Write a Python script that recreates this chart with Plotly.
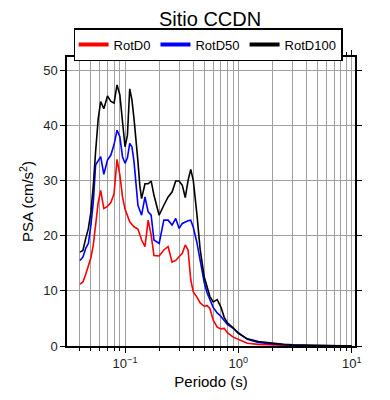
import plotly.graph_objects as go

periods = [0.04, 0.0425, 0.045, 0.0475, 0.05, 0.0525, 0.055, 0.058, 0.061, 0.065,
           0.07, 0.075, 0.08, 0.085, 0.09, 0.095, 0.10, 0.105, 0.11, 0.115,
           0.12, 0.13, 0.135, 0.14, 0.15, 0.16, 0.17, 0.18, 0.20, 0.22,
           0.24, 0.26, 0.28, 0.30, 0.32, 0.34, 0.36, 0.38, 0.40, 0.43,
           0.46, 0.50, 0.53, 0.56, 0.60, 0.65, 0.70, 0.75, 0.80, 0.90,
           1.0, 1.2, 1.5, 2.0, 2.5, 3.0, 4.0, 5.0, 7.5, 10.0]

rotd0 = [11.2, 11.6, 13.0, 14.8, 16.0, 18.3, 22.0, 26.0, 28.2, 24.9,
         25.3, 26.0, 27.6, 33.8, 31.0, 27.0, 24.8, 23.5, 22.5, 22.0,
         21.6, 21.2, 20.1, 19.2, 18.0, 22.8, 20.1, 16.4, 16.3, 17.4,
         18.0, 15.2, 15.5, 16.1, 16.8, 18.3, 17.4, 12.0, 9.8, 8.9,
         7.8, 7.2, 7.3, 6.8, 4.7, 3.4, 3.1, 3.2, 2.4, 1.6,
         1.2, 0.5, 0.3, 0.15, 0.1, 0.07, 0.05, 0.03, 0.02, 0.01]

rotd50 = [15.5, 16.1, 17.7, 18.6, 21.9, 26.1, 32.8, 33.5, 34.3, 31.1,
          33.7, 34.6, 36.5, 39.1, 37.9, 34.3, 33.1, 34.1, 36.7, 36.1,
          33.4, 25.5, 24.5, 23.7, 27.0, 24.3, 23.7, 19.2, 18.6, 22.8,
          22.8, 21.9, 23.1, 21.3, 22.2, 22.5, 22.7, 22.8, 21.5, 18.8,
          15.5, 11.5, 9.6, 8.4, 7.0, 6.0, 5.4, 4.6, 3.9, 3.2,
          2.4, 1.2, 0.65, 0.35, 0.22, 0.15, 0.09, 0.06, 0.03, 0.02]

rotd100 = [17.0, 17.3, 19.5, 21.3, 24.3, 29.1, 35.2, 41.2, 44.3, 43.0,
           45.3, 44.3, 44.0, 47.3, 45.5, 41.2, 36.1, 38.2, 46.6, 44.6,
           41.2, 33.4, 29.1, 26.7, 29.4, 29.4, 29.9, 27.3, 23.7, 25.5,
           27.0, 27.9, 29.9, 29.9, 29.1, 26.9, 30.0, 32.0, 30.0, 24.0,
           17.5, 12.5, 10.5, 9.0, 8.0, 8.4, 7.1, 5.2, 4.2, 3.3,
           2.3, 1.3, 0.8, 0.45, 0.3, 0.2, 0.12, 0.08, 0.04, 0.03]

series_names = ["RotD0", "RotD50", "RotD100"]
series_colors = ["#ff0000", "#0000ff", "#000000"]

x_major = [0.1, 1, 10]
x_major_text = ["10<sup>−1</sup>", "10<sup>0</sup>", "10<sup>1</sup>"]
x_minor = [m * d for d in (0.01, 0.1, 1) for m in range(2, 10)]
y_ticks = [0, 10, 20, 30, 40, 50]

font_family = "Liberation Sans, Arial, sans-serif"

fig = go.Figure()
for name, vals, col in zip(series_names, [rotd0, rotd50, rotd100], series_colors):
    fig.add_trace(go.Scatter(x=periods, y=vals, mode="lines", name=name,
                             legendgroup=name, showlegend=False,
                             line=dict(color=col, width=1.6)))
# legend entries with thick line swatches (as in the reference key)
for name, col in zip(series_names, series_colors):
    fig.add_trace(go.Scatter(x=[None], y=[None], mode="lines", name=name,
                             legendgroup=name, showlegend=True,
                             line=dict(color=col, width=4)))

fig.update_layout(
    width=382, height=392,
    margin=dict(l=59, r=35, t=49, b=54, autoexpand=False),
    paper_bgcolor="white", plot_bgcolor="white",
    font=dict(family=font_family, size=13, color="#000000"),
    title=dict(text="Sitio CCDN", x=0.529, xanchor="center", y=0.99, yanchor="top",
               font=dict(size=20, color="#000000")),
    showlegend=True,
    legend=dict(orientation="h", x=0.49, xanchor="center", y=1.10, yanchor="top",
                bordercolor="#000000", borderwidth=1.5, bgcolor="white",
                font=dict(size=13), itemwidth=30, tracegroupgap=0),
    xaxis=dict(
        type="log", range=[-1.512, 1.029],
        tickvals=x_major, ticktext=x_major_text,
        ticks="outside", ticklen=5, tickwidth=1, tickcolor="#000000",
        showline=True, linecolor="#000000", linewidth=1.5, mirror="allticks",
        showgrid=True, gridcolor="#a0a0a0", gridwidth=1,
        minor=dict(tickvals=x_minor, ticks="outside", ticklen=3, tickcolor="#000000",
                   showgrid=True, gridcolor="#a0a0a0", gridwidth=1),
        title=dict(text="Periodo (s)", font=dict(size=15), standoff=6),
        tickfont=dict(size=13, color="#222222"),
        zeroline=False,
    ),
    yaxis=dict(
        range=[0, 52.36], tickvals=y_ticks,
        ticks="outside", ticklen=5, tickwidth=1, tickcolor="#000000",
        showline=True, linecolor="#000000", linewidth=1.5, mirror="allticks",
        showgrid=True, gridcolor="#a0a0a0", gridwidth=1,
        title=dict(text="PSA (cm/s<sup>2</sup>)", font=dict(size=15), standoff=6),
        tickfont=dict(size=13, color="#222222"),
        zeroline=False,
    ),
)

fig.write_html("out.html")
